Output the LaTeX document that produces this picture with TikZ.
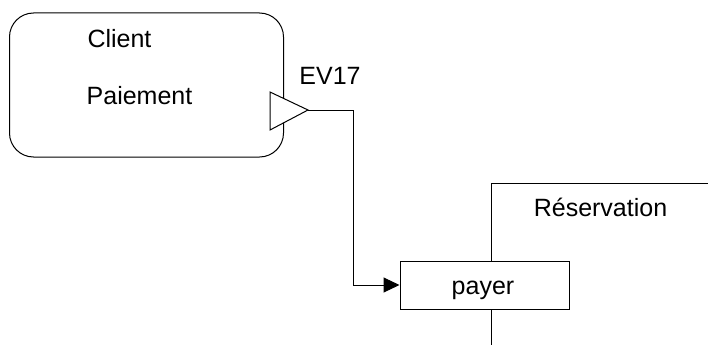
\documentclass[tikz,border=0pt]{standalone}
\usepackage{fontspec}
\setmainfont{Liberation Sans}
\usetikzlibrary{arrows.meta}
\begin{document}
\begin{tikzpicture}[x=1pt,y=-1pt,line width=1pt,
  lbl/.style={anchor=base,font=\fontsize{25}{29}\selectfont,inner sep=0pt},
  boxst/.style={draw,line width=1pt,inner sep=0pt}]
\useasboundingbox (0,0) rectangle (708,345);
\node[boxst,rounded corners=24pt,minimum width=274pt,minimum height=144pt] (client) at (146.5,85) {};
\node[lbl] (tclient) at (119.5,47.5) {Client};
\node[lbl] (tpaie) at (139.5,104) {Paiement};
\coordinate (tl) at (270,92);
\coordinate (bl) at (270,130);
\coordinate (ev) at (308,110);
\draw[fill=white] (tl) -- (ev) -- (bl) -- cycle;
\node[lbl] (tev) at (330,84.5) {EV17};
\node[boxst,minimum width=169pt,minimum height=48pt] (payer) at (484.5,285) {};
\node[lbl] (tpayer) at (483,294.5) {payer};
\coordinate (bend1) at (353,110);
\draw[-{Triangle[length=16pt,width=15pt]}] (ev) -- (bend1) |- (payer.west);
\coordinate (lanetop) at (491,183);
\coordinate (laneend) at (708,183);
\coordinate (lanebot) at (491,345);
\draw (laneend) -- (lanetop) -- (lanetop |- payer.north);
\draw (lanetop |- payer.south) -- (lanebot);
\node[lbl] (tres) at (600.5,216.5) {Réservation};
\end{tikzpicture}
\end{document}
